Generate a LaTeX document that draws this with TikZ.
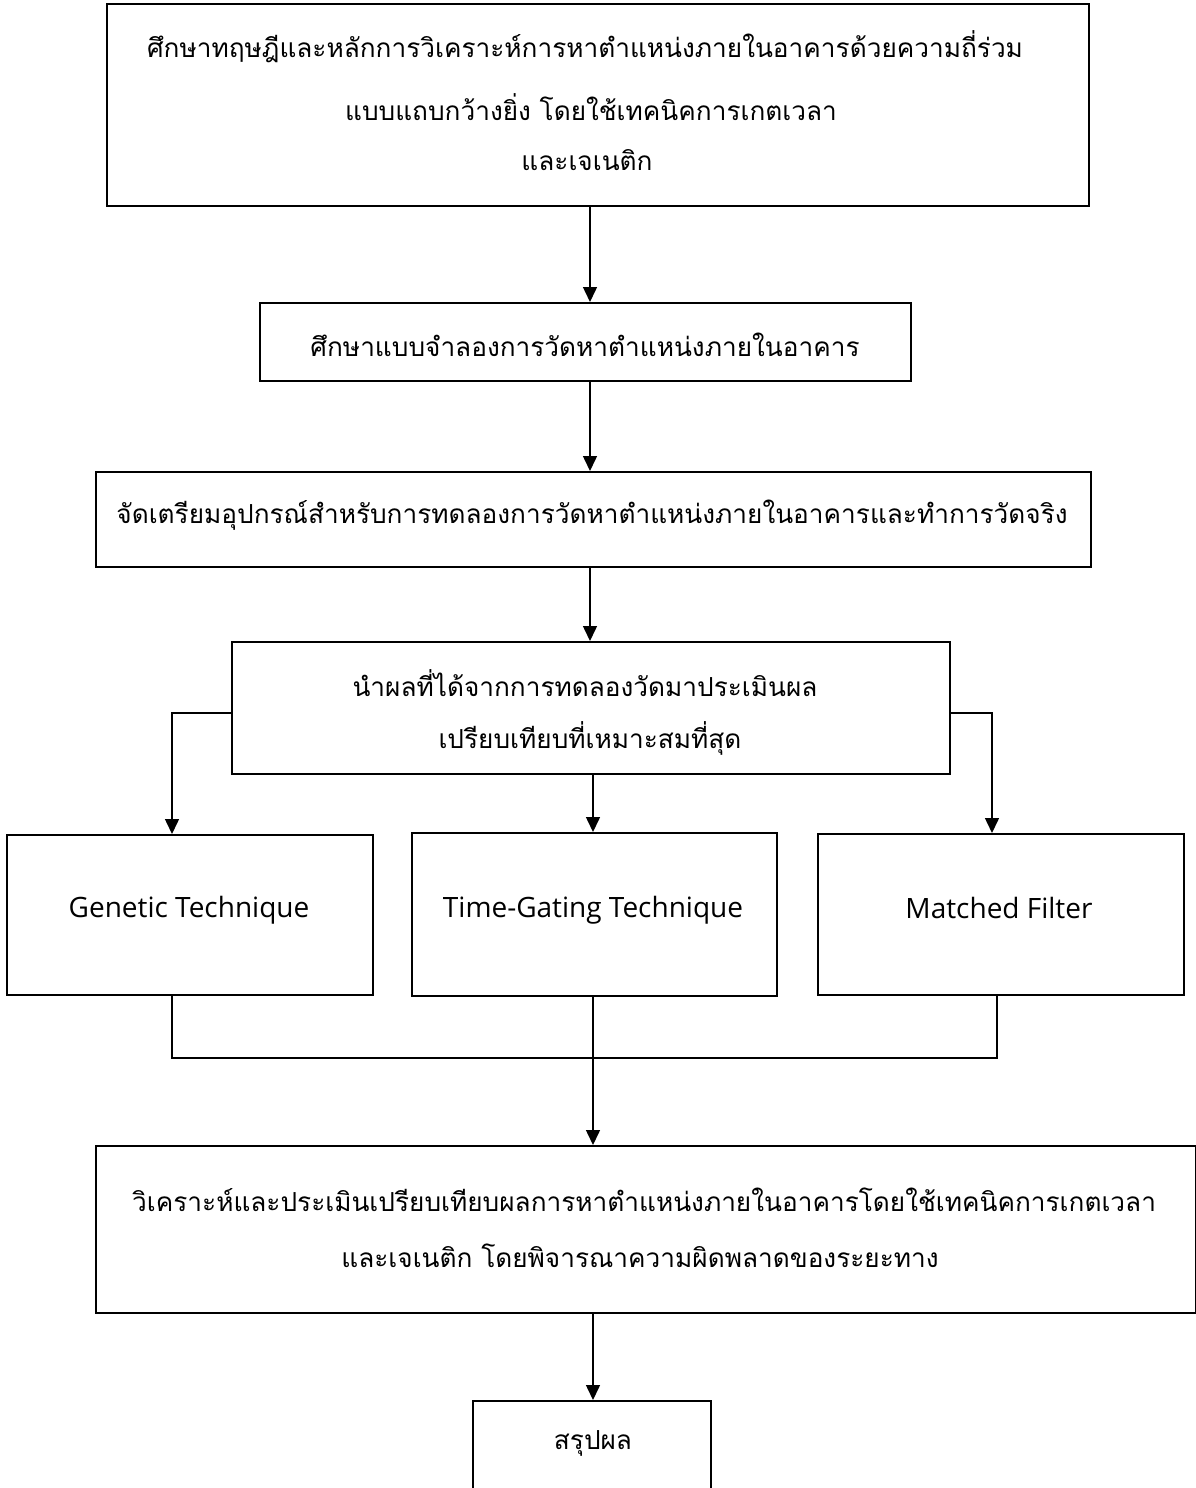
\documentclass[tikz,border=0pt]{standalone}
\usepackage{fontspec}
\setmainfont[Script=Thai]{Loma}
\newfontfamily\latinfont{Open Sans}
\usetikzlibrary{arrows.meta}
\tikzset{
  box/.style={draw=black, line width=2pt, inner sep=0pt, anchor=north west},
  txt/.style={inner sep=0pt, font=\fontsize{26.2}{31}\selectfont},
  ltxt/.style={inner sep=0pt, font=\latinfont\fontsize{28}{33}\selectfont},
  conn/.style={draw=black, line width=1.5pt},
  arr/.style={conn, -{Triangle[length=15pt,width=14pt]}}
}
\begin{document}
\begin{tikzpicture}[x=1pt,y=-1pt]
\clip (0,0) rectangle (1196,1488);
\fill[white] (0,0) rectangle (1196,1488);
% boxes
\node[box, minimum width=982pt, minimum height=202pt] (b1) at (106,3) {};
\node[box, minimum width=651pt, minimum height=78pt] (b2) at (259,302) {};
\node[box, minimum width=995pt, minimum height=95pt] (b3) at (95,471) {};
\node[box, minimum width=718pt, minimum height=132pt] (b4) at (231,641) {};
\node[box, minimum width=366pt, minimum height=160pt] (b5a) at (6,834) {};
\node[box, minimum width=365pt, minimum height=163pt] (b5b) at (411,832) {};
\node[box, minimum width=366pt, minimum height=161pt] (b5c) at (817,833) {};
\node[box, minimum width=1100pt, minimum height=167pt] (b6) at (95,1145) {};
\node[box, minimum width=238pt, minimum height=120pt] (b7) at (472,1400) {};
% texts
\node[txt] (t1a) at (585,47) {ศึกษาทฤษฎีและหลักการวิเคราะห์การหาตำแหน่งภายในอาคารด้วยความถี่ร่วม};
\node[txt] (t1b) at (591,107) {แบบแถบกว้างยิ่ง โดยใช้เทคนิคการเกตเวลา};
\node[txt] (t1c) at (587,160) {และเจเนติก};
\node[txt] (t2) at (585,345) {ศึกษาแบบจำลองการวัดหาตำแหน่งภายในอาคาร};
\node[txt] (t3) at (592,515) {จัดเตรียมอุปกรณ์สำหรับการทดลองการวัดหาตำแหน่งภายในอาคารและทำการวัดจริง};
\node[txt] (t4a) at (585,683) {นำผลที่ได้จากการทดลองวัดมาประเมินผล};
\node[txt] (t4b) at (590,738) {เปรียบเทียบที่เหมาะสมที่สุด};
\node[ltxt] (t5a) at (189,910) {Genetic Technique};
\node[ltxt] (t5b) at (593,910) {Time-Gating Technique};
\node[ltxt] (t5c) at (999,908) {Matched Filter};
\node[txt] (t6a) at (644,1200) {วิเคราะห์และประเมินเปรียบเทียบผลการหาตำแหน่งภายในอาคารโดยใช้เทคนิคการเกตเวลา};
\node[txt] (t6b) at (640,1256) {และเจเนติก โดยพิจารณาความผิดพลาดของระยะทาง};
\node[txt] (t7) at (593,1443) {สรุปผล};
% connector coordinates
\coordinate (ax1) at (590,0);
\coordinate (ax2) at (593,0);
\coordinate (lx) at (172,713);
\coordinate (rx) at (992,713);
\coordinate (jl) at (172,1058);
\coordinate (jr) at (997,1058);
% arrows
\draw[arr] (b1.south -| ax1) -- (b2.north -| ax1);
\draw[arr] (b2.south -| ax1) -- (b3.north -| ax1);
\draw[arr] (b3.south -| ax1) -- (b4.north -| ax1);
\draw[arr] (b4.south -| ax2) -- (b5b.north -| ax2);
\draw[arr] (b4.west |- lx) -- (lx) -- (b5a.north -| lx);
\draw[arr] (b4.east |- rx) -- (rx) -- (b5c.north -| rx);
\draw[conn] (b5a.south -| jl) -- (jl) -- (jr) -- (b5c.south -| jr);
\draw[arr] (b5b.south -| ax2) -- (b6.north -| ax2);
\draw[arr] (b6.south -| ax2) -- (b7.north -| ax2);
\end{tikzpicture}
\end{document}
